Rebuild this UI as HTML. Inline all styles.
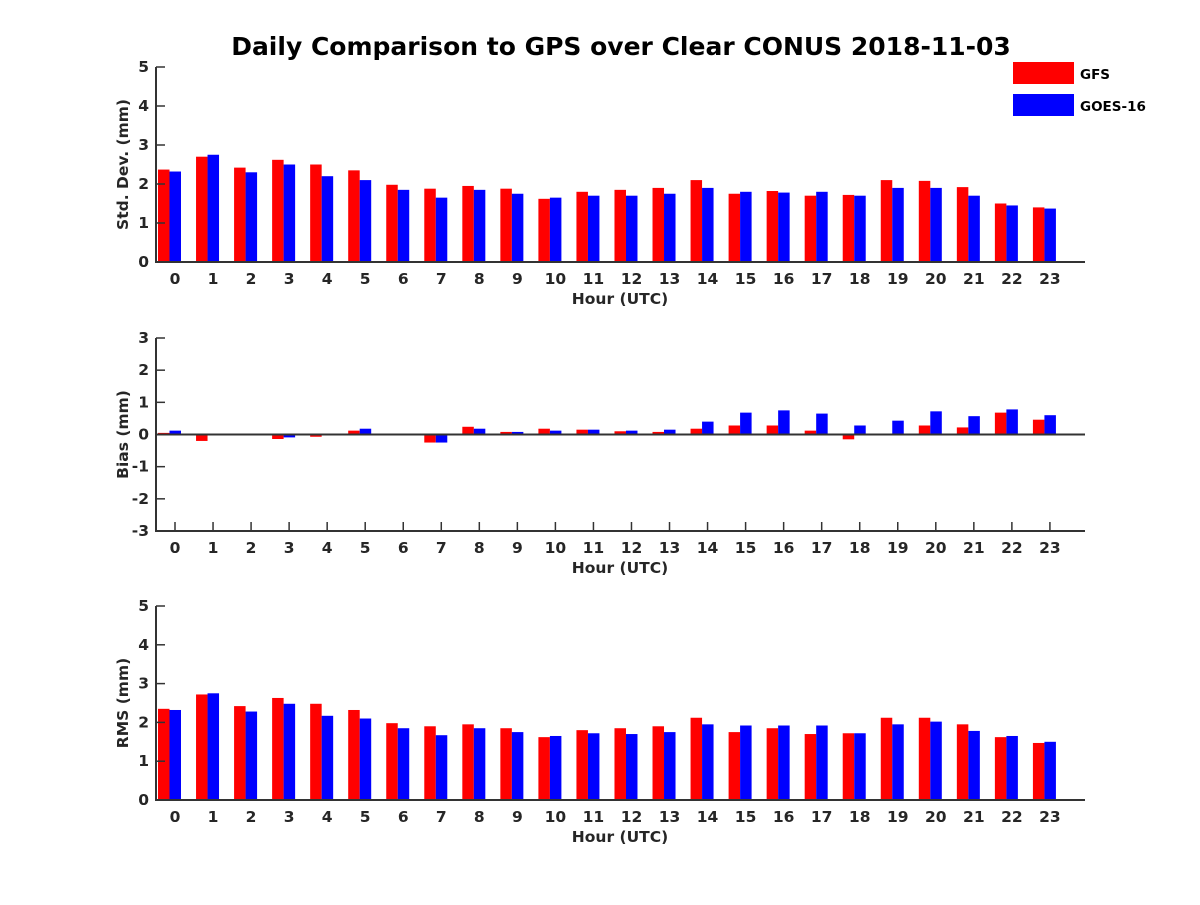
<!DOCTYPE html>
<html><head><meta charset="utf-8"><style>
body{margin:0;background:#fff}
svg text{font-family:"DejaVu Sans","Liberation Sans",sans-serif;font-weight:bold;fill:#262626}
</style></head><body>
<svg id="c" width="1200" height="900" xmlns="http://www.w3.org/2000/svg">
<text x="621" y="55" text-anchor="middle" font-size="25" style="fill:#000">Daily Comparison to GPS over Clear CONUS 2018-11-03</text>
<g>
<rect x="1013" y="62" width="61" height="22" fill="#ff0000"/>
<text x="1080" y="79" font-size="13.5" style="fill:#000">GFS</text>
<rect x="1013" y="94" width="61" height="22" fill="#0000ff"/>
<text x="1080" y="111" font-size="13.5" style="fill:#000">GOES-16</text>
</g>
</svg>
<script>
const hours=[0,1,2,3,4,5,6,7,8,9,10,11,12,13,14,15,16,17,18,19,20,21,22,23];
const stdGFS=[2.37,2.7,2.42,2.62,2.5,2.35,1.98,1.88,1.95,1.88,1.62,1.8,1.85,1.9,2.1,1.75,1.82,1.7,1.72,2.1,2.08,1.92,1.5,1.4];
const stdGOES=[2.32,2.75,2.3,2.5,2.2,2.1,1.85,1.65,1.85,1.75,1.65,1.7,1.7,1.75,1.9,1.8,1.78,1.8,1.7,1.9,1.9,1.7,1.45,1.37];
const biasGFS=[0.05,-0.2,-0.03,-0.14,-0.07,0.12,-0.03,-0.25,0.24,0.08,0.18,0.15,0.1,0.08,0.18,0.28,0.28,0.12,-0.15,-0.03,0.28,0.22,0.68,0.46];
const biasGOES=[0.12,-0.03,0.03,-0.09,0.02,0.18,0,-0.25,0.18,0.08,0.12,0.15,0.12,0.15,0.4,0.68,0.75,0.65,0.28,0.43,0.72,0.57,0.78,0.6];
const rmsGFS=[2.35,2.72,2.42,2.63,2.48,2.32,1.98,1.9,1.95,1.85,1.62,1.8,1.85,1.9,2.12,1.75,1.85,1.7,1.72,2.12,2.12,1.95,1.62,1.47];
const rmsGOES=[2.32,2.75,2.28,2.48,2.17,2.1,1.85,1.67,1.85,1.75,1.65,1.72,1.7,1.75,1.95,1.92,1.92,1.92,1.72,1.95,2.02,1.78,1.65,1.5];
const ticks1=[0,1,2,3,4,5];
const ticks2=[-3,-2,-1,0,1,2,3];
const NS='http://www.w3.org/2000/svg';
const svg=document.getElementById('c');
function mk(t,a,p){const e=document.createElementNS(NS,t);for(const k in a)e.setAttribute(k,a[k]);(p||svg).appendChild(e);return e;}
function panel(name,top,bottom,ymin,ymax,ticks,ylabel,red,blue){
  const g=mk('g',{});
  
  
  const L=156,R=1085;
  const y=v=>bottom-(v-ymin)/(ymax-ymin)*(bottom-top);
  const xc=h=>169.5+38.04*h;
  const y0=y(Math.max(0,ymin));
  hours.forEach((h,i)=>{
    const tx=xc(h)+5.5;
    mk('line',{x1:tx,x2:tx,y1:bottom,y2:bottom-9,stroke:'#333','stroke-width':1.5},g);
    const r=mk('rect',{x:xc(h)-11.5,y:Math.min(y(red[i]),y0),width:11.5,height:Math.abs(y(red[i])-y0),fill:'#ff0000'},g);
    
    
    const b=mk('rect',{x:xc(h),y:Math.min(y(blue[i]),y0),width:11.5,height:Math.abs(y(blue[i])-y0),fill:'#0000ff'},g);
    
    
    const t=mk('text',{x:tx,y:bottom+22,'text-anchor':'middle','font-size':15.5},g);
    t.textContent=h;
    
    
  });
  ticks.forEach(v=>{
    mk('line',{x1:L,x2:L+9,y1:y(v),y2:y(v),stroke:'#333','stroke-width':1.5},g);
    const t=mk('text',{x:L-7,y:y(v)+5,'text-anchor':'end','font-size':15.5},g);
    t.textContent=v;
    
    
  });
  if(ymin<0) mk('line',{x1:L,x2:R,y1:y(0),y2:y(0),stroke:'#333','stroke-width':2},g);
  mk('line',{x1:L,x2:L,y1:top,y2:bottom+1,stroke:'#333','stroke-width':2},g);
  mk('line',{x1:L-1,x2:R,y1:bottom,y2:bottom,stroke:'#333','stroke-width':2},g);
  const xl=mk('text',{x:620,y:bottom+42,'text-anchor':'middle','font-size':15.5},g);
  xl.textContent='Hour (UTC)';
  
  
  const cy=(top+bottom)/2;
  const yl=mk('text',{x:128,y:cy,'text-anchor':'middle','font-size':15.5,transform:'rotate(-90 128 '+cy+')'},g);
  yl.textContent=ylabel;
  
  
}
panel('std-dev',67,262,0,5,ticks1,'Std. Dev. (mm)',stdGFS,stdGOES);
panel('bias',338,531,-3,3,ticks2,'Bias (mm)',biasGFS,biasGOES);
panel('rms',606,800,0,5,ticks1,'RMS (mm)',rmsGFS,rmsGOES);
</script>
</body></html>
